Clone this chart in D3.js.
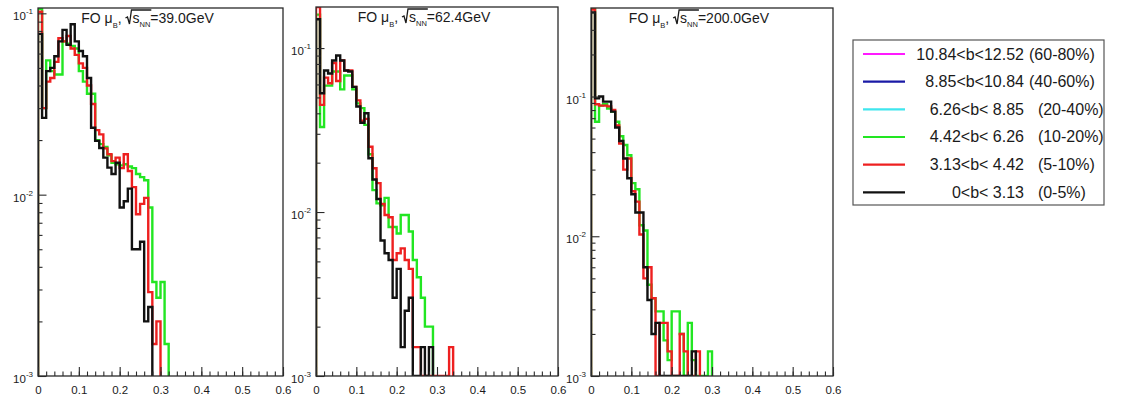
<!DOCTYPE html>
<html><head><meta charset="utf-8">
<script src="https://cdn.jsdelivr.net/npm/d3@7"></script>
<style>
body{margin:0;background:#fff}
text{font-family:"Liberation Sans",Arial,Helvetica,sans-serif;fill:#1a1a1a}
.pre{white-space:pre}
</style>
</head><body>
<svg id="c" width="1130" height="396"></svg>
<script>
// ---------------- data ----------------
const binWidth = 0.01;               // histogram bin width in b-slope units
const xDomain = [0, 0.6];
const yMin = 0.001;
const energies = ["39.0", "62.4", "200.0"];
const yMaxes = [0.107, 0.178, 0.43];

// sqrt(sNN) = 39.0 GeV
const e39_b0_5   = [0.077,0.0265,0.048,0.050,0.058,0.070,0.081,0.067,0.087,0.070,0.062,0.058,0.044,0.0234,0.0198,0.0181,0.016,0.0141,0.013,0.015,0.0085,0.0092,0.0108,0.0050,0.0050,0.0055,0.0020,0.0024];
const e39_b5_10  = [0.102,0.030,0.042,0.044,0.054,0.073,0.070,0.075,0.064,0.059,0.053,0.050,0.040,0.0316,0.0227,0.0215,0.018,0.0167,0.0153,0.016,0.014,0.0167,0.0135,0.0110,0.0078,0.0089,0.0096,0.0029,0.0015,0.0020];
const e39_b10_20 = [0.106,0.030,0.055,0.048,0.046,0.046,0.070,0.068,0.066,0.064,0.048,0.042,0.036,0.036,0.0200,0.0190,0.0183,0.0165,0.0150,0.0147,0.0145,0.0147,0.0143,0.0140,0.0130,0.0125,0.0120,0.0085,0.0033,0.0027,0.0033,0.0015];

// sqrt(sNN) = 62.4 GeV
const e62_b0_5   = [0.150,0.053,0.073,0.070,0.084,0.090,0.084,0.073,0.072,0.058,0.044,0.035,0.040,0.0213,0.0158,0.0120,0.0067,0.0056,0.0051,0.0030,0.0045,0.0015,0.0025,0.0030,0,0,0.0015,0,0.0015];
const e62_b5_10  = [0.178,0.045,0.066,0.061,0.081,0.063,0.084,0.073,0.073,0.058,0.048,0.036,0.037,0.025,0.0185,0.015,0.0112,0.0096,0.0093,0.0051,0.0056,0.0060,0.0051,0.0045,0.0015,0.0015,0,0,0,0,0,0,0,0.0015];
const e62_b10_20 = [0.160,0.033,0.059,0.059,0.072,0.072,0.056,0.068,0.068,0.056,0.046,0.043,0.034,0.0225,0.0136,0.0113,0.0110,0.0122,0.0081,0.0081,0.0074,0.0096,0.0096,0.0076,0.0051,0.0040,0.0030,0.0020,0.0020];

// sqrt(sNN) = 200.0 GeV
const e200_b0_5   = [0.40,0.097,0.100,0.092,0.092,0.078,0.060,0.048,0.036,0.026,0.020,0.0148,0.0148,0.0060,0.0035,0.0020,0.0024,0,0,0,0,0,0,0,0,0.0015];
const e200_b5_10  = [0.42,0.088,0.086,0.086,0.085,0.080,0.062,0.046,0.030,0.036,0.021,0.0177,0.0103,0.0050,0.0060,0.0036,0,0.0024,0.0024,0.0015,0,0,0.0020,0.0015,0,0,0.0015];
const e200_b10_20 = [0.43,0.066,0.086,0.088,0.082,0.078,0.066,0.052,0.045,0.038,0.024,0.0217,0.0120,0.0110,0.0045,0.0036,0.0029,0.0029,0.0018,0.0013,0.0029,0.0029,0.0020,0,0.0024,0.0013,0,0,0,0.0015];

const legendRanges = ["10.84<b<12.52", "8.85<b<10.84", "6.26<b< 8.85", "4.42<b< 6.26", "3.13<b< 4.42", "0<b< 3.13"];
const legendCents  = ["(60-80%)", "(40-60%)", "  (20-40%)", "  (10-20%)", "  (5-10%)", "  (0-5%)"];
const legendColors = ["#ff1aff", "#1a1aa6", "#3fe6ee", "#22e622", "#ee2020", "#111111"];

const panels = [
  {energy: energies[0], series: [[e39_b10_20, "#22e622"], [e39_b5_10, "#ee2020"], [e39_b0_5, "#111111"]]},
  {energy: energies[1], series: [[e62_b10_20, "#22e622"], [e62_b5_10, "#ee2020"], [e62_b0_5, "#111111"]]},
  {energy: energies[2], series: [[e200_b10_20, "#22e622"], [e200_b5_10, "#ee2020"], [e200_b0_5, "#111111"]]}
];

// ---------------- layout ----------------
const frames = [{l:38,r:283,t:8,b:376},{l:316,r:558,t:7,b:376},{l:591,r:833,t:8,b:376}];
const svg = d3.select("#c");

panels.forEach((p, i) => {
  const f = frames[i];
  const x = d3.scaleLinear().domain(xDomain).range([f.l, f.r]);
  const y = d3.scaleLog().domain([yMin, yMaxes[i]]).range([f.b, f.t]).clamp(true);
  const g = svg.append("g");

  g.append("clipPath").attr("id", "clip" + i)
    .append("rect").attr("x", f.l).attr("y", f.t).attr("width", f.r - f.l).attr("height", f.b - f.t);

  const stepPath = vals => {
    const pts = [[x(0), f.b]];
    vals.forEach((v, k) => {
      const yy = v > yMin ? y(v) : f.b;
      pts.push([x(k * binWidth), yy]);
      pts.push([x((k + 1) * binWidth), yy]);
    });
    pts.push([x(vals.length * binWidth), f.b]);
    return d3.line()(pts);
  };

  const hg = g.append("g").attr("clip-path", `url(#clip${i})`);
  p.series.forEach(([vals, col]) => {
    hg.append("path").attr("d", stepPath(vals))
      .attr("fill", "none").attr("stroke", col).attr("stroke-width", 2.4)
      .attr("stroke-linejoin", "miter");
  });

  // frame
  g.append("rect").attr("x", f.l).attr("y", f.t).attr("width", f.r - f.l).attr("height", f.b - f.t)
    .attr("fill", "none").attr("stroke", "#2a2a2a").attr("stroke-width", 1.3);

  // x axis (ticks inside)
  const xg = g.append("g").attr("transform", `translate(0,${f.b})`);
  xg.append("g").call(d3.axisBottom(x).tickValues(x.ticks(30)).tickSize(-4.5).tickFormat(""));
  xg.append("g").call(d3.axisBottom(x).tickValues(x.ticks(6)).tickSize(-9).tickPadding(10)
      .tickFormat(d => d === 0 ? "0" : d3.format(".1f")(d)));
  xg.selectAll(".domain").remove();
  xg.selectAll("line").attr("stroke", "#2a2a2a").attr("stroke-width", 1.1);
  xg.selectAll("text").attr("font-size", 11.5).attr("font-family", "Liberation Sans, Arial, sans-serif").attr("fill", "#1a1a1a");

  // y axis (log, ticks inside)
  const isMajor = d => Math.abs(Math.log10(d) - Math.round(Math.log10(d))) < 1e-6;
  const yt = y.ticks();
  const yg = g.append("g").attr("transform", `translate(${f.l},0)`);
  yg.append("g").call(d3.axisLeft(y).tickValues(yt.filter(d => !isMajor(d))).tickSize(-4.5).tickFormat(""));
  yg.append("g").call(d3.axisLeft(y).tickValues(yt.filter(isMajor)).tickSize(-8.5).tickFormat(""));
  yg.selectAll(".domain").remove();
  yg.selectAll("line").attr("stroke", "#2a2a2a").attr("stroke-width", 1.1);

  yt.filter(isMajor).forEach(d => {
    const t = g.append("text").attr("x", f.l - 5).attr("y", y(d) + 7).attr("text-anchor", "end");
    t.append("tspan").attr("font-size", 11.5).text("10");
    t.append("tspan").attr("font-size", 8).attr("dy", -6).text(String(Math.round(Math.log10(d))));
  });

  // title: FO μ_B, √s_NN=xx GeV
  const tg = g.append("g");
  const base = f.t + 15;
  let cx = 0;
  const piece = (txt, size, dy) => {
    const el = tg.append("text").attr("class", "pre").attr("x", cx).attr("y", base + dy)
      .attr("font-size", size).text(txt);
    const w = el.node().getComputedTextLength();
    cx += w;
    return w;
  };
  piece("FO ", 14, 0);
  piece("\u03bc", 14, 0);
  piece("B", 7.5, 4.5);
  piece(", ", 14, 0);
  const rx = cx;
  cx += 7;
  piece("s", 14, 0);
  piece("NN", 7.5, 4);
  const ex = cx;
  piece("=" + p.energy + "GeV", 14, 0);
  const topY = f.t + 2;
  tg.append("path")
    .attr("d", `M${rx},${base - 5} L${rx + 2},${base - 6} L${rx + 4},${base + 1} L${rx + 6},${topY} L${ex + 1},${topY}`)
    .attr("fill", "none").attr("stroke", "#1a1a1a").attr("stroke-width", 1.3);
  const tw = cx;
  tg.attr("transform", `translate(${(f.l + f.r) / 2 - 13 - tw / 2},0)`);
});

// ---------------- legend ----------------
const lg = svg.append("g");
lg.append("rect").attr("x", 853).attr("y", 40).attr("width", 251).attr("height", 165)
  .attr("fill", "#fff").attr("stroke", "#555").attr("stroke-width", 1.2);
const ly = d3.scalePoint().domain(legendRanges).range([54, 192.3]);
legendRanges.forEach((r, k) => {
  const yy = ly(r);
  lg.append("line").attr("x1", 863).attr("x2", 905).attr("y1", yy).attr("y2", yy)
    .attr("stroke", legendColors[k]).attr("stroke-width", 2.2);
  lg.append("text").attr("class", "pre").attr("x", 1024).attr("y", yy + 5.5)
    .attr("text-anchor", "end").attr("font-size", 16).text(r);
  lg.append("text").attr("class", "pre").attr("x", 1029).attr("y", yy + 5.5)
    .attr("font-size", 16).text(legendCents[k]);
});
</script>
</body></html>
